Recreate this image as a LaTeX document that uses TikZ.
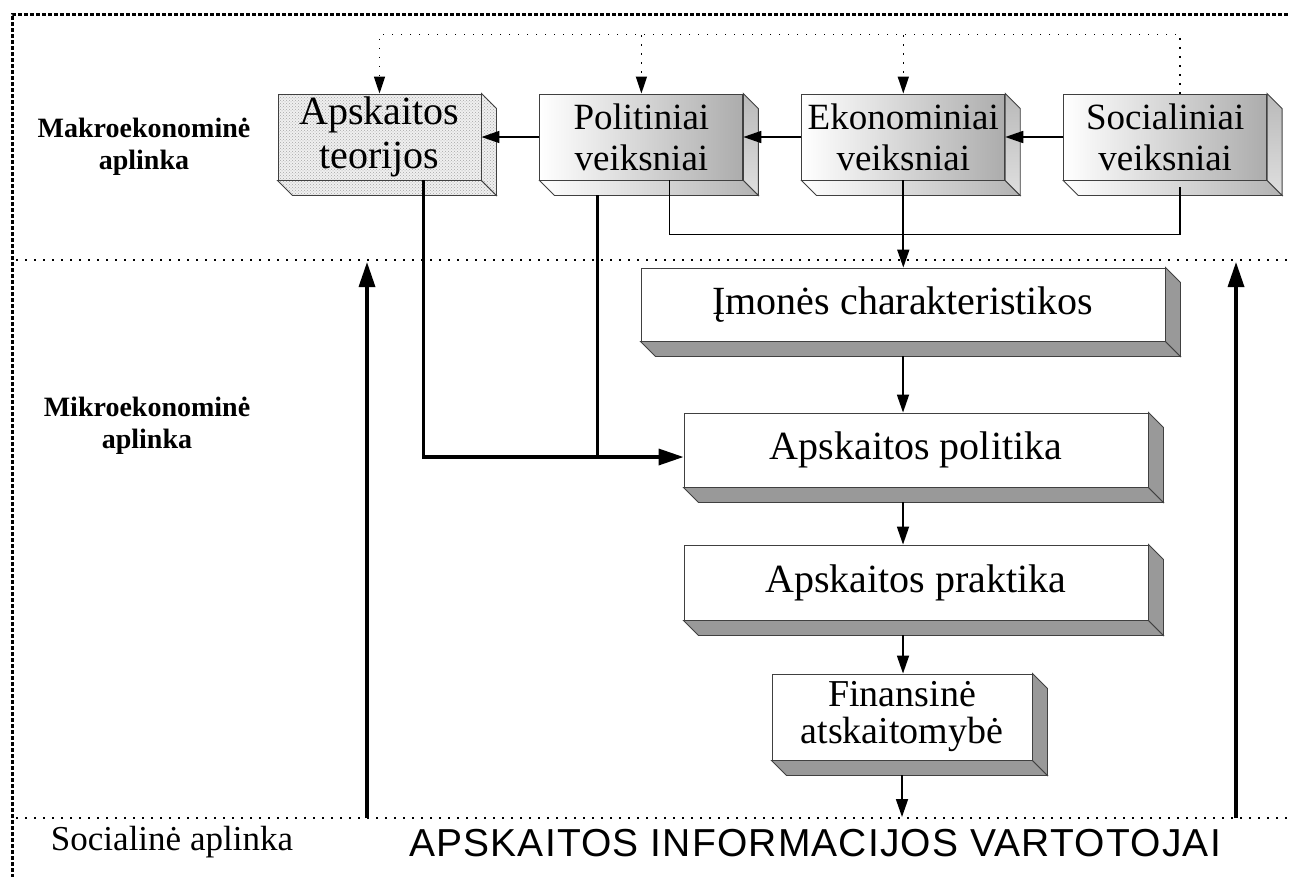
\documentclass[tikz,border=0pt]{standalone}
\usepackage{fontspec}
\setmainfont{Liberation Serif}
\setsansfont{Liberation Sans}
\usetikzlibrary{positioning,calc,patterns,arrows.meta}

% bottom and right faces of a box: node, bottom style, right style
\newcommand{\sidefaces}[3]{%
  \path[#2] (#1.south west) -- ++(15,15) -- ($(#1.south east)+(15,15)$) -- (#1.south east) -- cycle;
  \path[#3] (#1.north east) -- ++(15,15) -- ($(#1.south east)+(15,15)$) -- (#1.south east) -- cycle;
}

\begin{document}
\begin{tikzpicture}[x=1pt, y=-1pt, thick, node distance=58pt,
    front/.style = {draw=black!75, line width=0.9pt, inner sep=0pt, align=center},
    topbox/.style = {front, left color=white, right color=gray!65, minimum width=203pt, minimum height=86pt, font=\fontsize{37}{41}\selectfont},
    theorybox/.style = {front, preaction={fill=gray!12}, pattern=crosshatch dots, pattern color=gray!70, minimum width=203pt, minimum height=86pt, font=\fontsize{40}{44}\selectfont},
    midbox/.style = {front, fill=white, font=\fontsize{40}{42}\selectfont},
    zone/.style = {align=center, font=\bfseries\fontsize{28}{32}\selectfont},
    side/.style = {draw=black!75, line width=0.9pt, fill=black!40},
    topbottom/.style = {draw=black!75, line width=0.9pt, left color=white, right color=gray!60},
    topright/.style = {draw=black!75, line width=0.9pt, top color=gray!55, bottom color=gray!25},
    dotside/.style = {draw=black!75, line width=0.9pt, preaction={fill=gray!12}, pattern=crosshatch dots, pattern color=gray!70},
    link/.style = {line width=1.7pt},
    arrow/.style = {link, -{Triangle[length=18pt,width=12pt]}},
    heavyline/.style = {line width=3.4pt},
    heavy/.style = {heavyline, -{Triangle[length=25pt,width=16pt]}},
    sep/.style = {line width=1.6pt, dash pattern=on 1.6pt off 7.4pt},
    feedback/.style = {sep, -{Triangle[length=17pt,width=11pt]}}]

  \useasboundingbox (0,0) rectangle (1290,876);

  % frame and zones
  \draw[line width=3pt, dash pattern=on 4pt off 2pt] (12,890) -- (12,14) -- (1300,14);
  \draw[sep] (16,260) -- (1290,260);
  \draw[sep] (16,818) -- (1290,818);

  \node[zone] (makro) at (144,147) {Makroekonominė\\aplinka};
  \node[zone] (mikro) at (147,426) {Mikroekonominė\\aplinka};
  \node[font=\fontsize{35}{38}\selectfont] (social) at (172,842) {Socialinė aplinka};
  \node[font=\sffamily\addfontfeatures{LetterSpace=3}\fontsize{39}{40}\selectfont] (users) at (815,843) {APSKAITOS INFORMACIJOS VARTOTOJAI};

  % top row
  \node[theorybox] (teor) at (379.5,137) {Apskaitos\\teorijos};
  \node[topbox] (pol) [right=of teor] {Politiniai\\veiksniai};
  \node[topbox] (ekon) [right=of pol] {Ekonominiai\\veiksniai};
  \node[topbox] (soc) [right=of ekon] {Socialiniai\\veiksniai};

  % middle column
  \node[midbox, minimum width=524pt, minimum height=73pt] (imon) at (903,304.5) {Įmonės charakteristikos};
  \node[midbox, minimum width=464pt, minimum height=74pt] (polit) at (916,450) {Apskaitos politika};
  \node[midbox, minimum width=464pt, minimum height=75pt] (prakt) at (916,582.5) {Apskaitos praktika};
  \node[midbox, minimum width=260pt, minimum height=86pt, font=\fontsize{38}{37}\selectfont] (fin) at (902,717) {Finansinė\\atskaitomybė};

  \sidefaces{teor}{dotside}{dotside}
  \sidefaces{pol}{topbottom}{topright}
  \sidefaces{ekon}{topbottom}{topright}
  \sidefaces{soc}{topbottom}{topright}
  \sidefaces{imon}{side}{side}
  \sidefaces{polit}{side}{side}
  \sidefaces{prakt}{side}{side}
  \sidefaces{fin}{side}{side}

  \coordinate (fb) at (0,35);
  \coordinate (spine) at (903,0);
  \coordinate (sepb) at (0,817);
  \coordinate (leftfoot) at (367,818);
  \coordinate (lefthead) at (367,262);
  \coordinate (rightfoot) at (1236,818);
  \coordinate (righthead) at (1236,262);

  % feedback from society
  \draw[feedback] ($(soc.north)+(15,0)$) -- ($(soc.north)+(15,-59)$) -| (teor.north);
  \draw[feedback] (pol.north |- fb) -- (pol.north);
  \draw[feedback] (ekon.north |- fb) -- (ekon.north);

  % macro factors
  \draw[arrow] (soc.west) -- (ekon.east);
  \draw[arrow] (ekon.west) -- (pol.east);
  \draw[arrow] (pol.west) -- (teor.east);
  \draw[link] ($(pol.south)+(28,0)$) -- ++(0,54) -| ($(soc.south)+(15,7)$);
  \draw[arrow] (ekon.south) -- (ekon.south |- imon.north);

  \draw[heavy] ($(teor.south)+(44,0)$) |- ($(polit.west)+(0,7)$);
  \draw[heavyline] ($(pol.south)+(-44,15)$) -- ($(pol.south)+(-44,277)$);

  % company chain
  \draw[arrow] ($(spine |- imon.south)+(0,15)$) -- (spine |- polit.north);
  \draw[arrow] ($(spine |- polit.south)+(0,15)$) -- (spine |- prakt.north);
  \draw[arrow] ($(spine |- prakt.south)+(0,15)$) -- (spine |- fin.north);
  \draw[arrow] ($(fin.south)+(0,15)$) -- (fin.south |- sepb);

  % users back to the environment
  \draw[heavy] (leftfoot) -- (lefthead);
  \draw[heavy] (rightfoot) -- (righthead);
\end{tikzpicture}
\end{document}
